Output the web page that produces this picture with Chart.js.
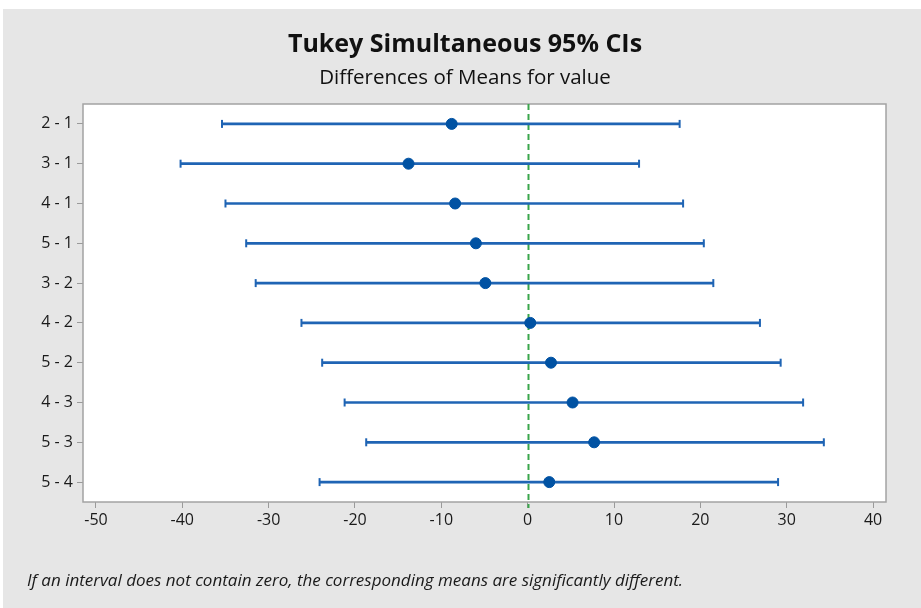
<!DOCTYPE html>
<html>
<head>
<meta charset="utf-8">
<script src="https://cdn.jsdelivr.net/npm/chart.js@4"></script>
<style>
  html, body { margin: 0; padding: 0; background: #fff; }
  #wrap { width: 921px; height: 608px; }
</style>
</head>
<body>
<div id="wrap"><canvas id="tukey" width="921" height="608"></canvas></div>
<script>
// comparisons, top to bottom
const pairs = ['2 - 1', '3 - 1', '4 - 1', '5 - 1', '3 - 2', '4 - 2', '5 - 2', '4 - 3', '5 - 3', '5 - 4'];
const lower = [-35.4, -40.2, -35.0, -32.6, -31.5, -26.2, -23.8, -21.2, -18.7, -24.1];
const diffs = [-8.8, -13.8, -8.4, -6.0, -4.9, 0.3, 2.7, 5.2, 7.7, 2.5];
const upper = [17.6, 12.9, 18.0, 20.4, 21.5, 26.9, 29.3, 31.9, 34.3, 29.0];
const xTicks = [-50, -40, -30, -20, -10, 0, 10, 20, 30, 40];

const titleText = 'Tukey Simultaneous 95% CIs';
const subtitleText = 'Differences of Means for value';
const noteText = 'If an interval does not contain zero, the corresponding means are significantly different.';

const blue = '#1f64b4';
const dotBlue = '#0052a3';
const fontFamily = '"Open Sans", "Noto Sans", sans-serif';

const frame = {
  id: 'frame',
  beforeDraw(chart) {
    const { ctx, chartArea: a, width, height } = chart;
    ctx.save();
    ctx.fillStyle = '#ffffff';
    ctx.fillRect(0, 0, width, height);
    ctx.fillStyle = '#e6e6e6';
    ctx.fillRect(3, 9, width - 3, height - 9);
    ctx.fillStyle = '#ffffff';
    ctx.fillRect(a.left, a.top, a.right - a.left, a.bottom - a.top);
    ctx.restore();
  },
  beforeDatasetsDraw(chart) {
    const { ctx, chartArea: a, scales } = chart;
    ctx.save();
    ctx.strokeStyle = '#a3a3a3';
    ctx.lineWidth = 1.5;
    ctx.strokeRect(a.left, a.top, a.right - a.left, a.bottom - a.top);
    // reference line at zero
    const x0 = Math.round(scales.x.getPixelForValue(0)) + 0.5;
    ctx.strokeStyle = '#3aa64c';
    ctx.lineWidth = 2;
    ctx.setLineDash([6, 4]);
    ctx.beginPath();
    ctx.moveTo(x0, a.top);
    ctx.lineTo(x0, a.bottom + 6);
    ctx.stroke();
    ctx.restore();
  },
  afterDraw(chart) {
    const { ctx } = chart;
    ctx.save();
    ctx.fillStyle = '#111';
    ctx.textAlign = 'center';
    ctx.textBaseline = 'middle';
    ctx.font = 'bold 25px ' + fontFamily;
    ctx.fillText(titleText, 465, 45);
    ctx.font = '20.5px ' + fontFamily;
    ctx.fillText(subtitleText, 465, 78);
    ctx.textAlign = 'left';
    ctx.font = 'italic 17px ' + fontFamily;
    ctx.fillStyle = '#1a1a1a';
    ctx.fillText(noteText, 27, 581);
    ctx.restore();
  }
};

new Chart(document.getElementById('tukey'), {
  type: 'bar',
  data: {
    labels: pairs,
    datasets: [
      {
        type: 'line',
        label: 'Difference',
        data: pairs.map((p, i) => ({ x: diffs[i], y: p })),
        showLine: false,
        pointStyle: 'circle',
        pointRadius: 5.5,
        pointBackgroundColor: dotBlue,
        pointBorderColor: dotBlue,
        pointBorderWidth: 1,
        order: 0
      },
      {
        type: 'line',
        label: 'Lower',
        data: pairs.map((p, i) => ({ x: lower[i], y: p })),
        showLine: false,
        pointStyle: 'line',
        rotation: 90,
        pointRadius: 4,
        pointBorderWidth: 2,
        pointBorderColor: blue,
        order: 1
      },
      {
        type: 'line',
        label: 'Upper',
        data: pairs.map((p, i) => ({ x: upper[i], y: p })),
        showLine: false,
        pointStyle: 'line',
        rotation: 90,
        pointRadius: 4,
        pointBorderWidth: 2,
        pointBorderColor: blue,
        order: 1
      },
      {
        label: '95% CI',
        data: pairs.map((p, i) => [lower[i], upper[i]]),
        backgroundColor: blue,
        borderWidth: 0,
        barThickness: 2,
        order: 2
      }
    ]
  },
  options: {
    indexAxis: 'y',
    responsive: false,
    animation: false,
    layout: { padding: { left: 0, top: 104, right: 35, bottom: 0 } },
    plugins: {
      legend: { display: false },
      tooltip: { enabled: false }
    },
    scales: {
      x: {
        type: 'linear',
        min: -51.5,
        max: 41.5,
        afterBuildTicks: s => { s.ticks = xTicks.map(v => ({ value: v })); },
        afterFit: s => { s.height = 106; },
        grid: { drawOnChartArea: false, drawTicks: true, tickLength: 6, tickColor: '#9a9a9a', color: '#9a9a9a' },
        border: { display: false },
        ticks: { padding: 3, color: '#1a1a1a', font: { family: fontFamily, size: 16 }, maxRotation: 0 }
      },
      y: {
        type: 'category',
        offset: true,
        afterFit: s => { s.width = 83; },
        grid: { offset: false, drawOnChartArea: false, drawTicks: true, tickLength: 6, tickColor: '#9a9a9a', color: '#9a9a9a' },
        border: { display: false },
        ticks: { padding: 4, color: '#1a1a1a', font: { family: fontFamily, size: 16 } }
      }
    }
  },
  plugins: [frame]
});
</script>
</body>
</html>
